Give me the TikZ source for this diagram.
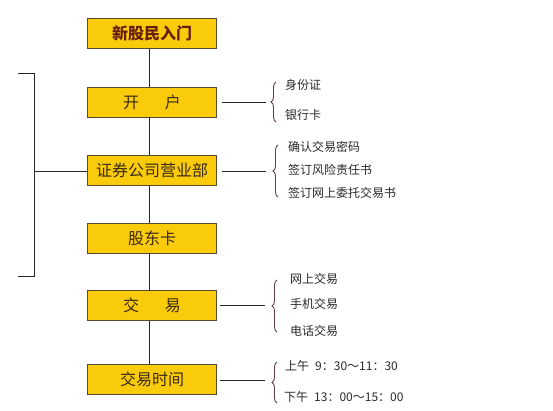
\documentclass[tikz,border=0pt]{standalone}
\usepackage{fontspec}
\setmainfont{Noto Sans CJK SC}
\usetikzlibrary{decorations.pathreplacing}
\definecolor{boxfill}{HTML}{FACB0A}
\definecolor{boxline}{HTML}{5A4A30}
\definecolor{txtdark}{HTML}{3A2A14}
\definecolor{txttop}{HTML}{6A1E0E}
\definecolor{bracecol}{HTML}{5C3E44}
\definecolor{sidetxt}{HTML}{2A2A2A}
\begin{document}
\begin{tikzpicture}[x=1pt,y=-1pt,
  stepbox/.style={draw=boxline,line width=0.9pt,fill=boxfill,minimum width=129pt,minimum height=30pt,inner sep=0pt,font=\fontsize{16}{16}\selectfont,text=txtdark},
  conn/.style={draw=black!85,line width=0.8pt},
  bracefig/.style={draw=bracecol,line width=0.9pt,decorate,decoration={brace,amplitude=5pt}},
  sidet/.style={anchor=west,inner sep=0pt,font=\fontsize{12}{12}\selectfont,text=sidetxt}]
\useasboundingbox (0,0) rectangle (553,411);
\fill[white] (0,0) rectangle (553,411);
% boxes
\node[stepbox,text=txttop,font=\fontsize{16}{16}\selectfont\bfseries] (b1) at (152,33.5) {新股民入门};
\node[stepbox] (b2) at (152,102) {开\hspace{1.6em}户};
\node[stepbox] (b3) at (152,170.5) {证券公司营业部};
\node[stepbox] (b4) at (152,238.5) {股东卡};
\node[stepbox] (b5) at (152,305.5) {交\hspace{1.6em}易};
\node[stepbox] (b6) at (152,379.5) {交易时间};
% vertical chain
\draw[conn] ([xshift=-3pt]b1.south) -- ([xshift=-3pt]b2.north);
\draw[conn] ([xshift=-3pt]b2.south) -- ([xshift=-3pt]b3.north);
\draw[conn] ([xshift=-3pt]b3.south) -- ([xshift=-3pt]b4.north);
\draw[conn] ([xshift=-3pt]b4.south) -- ([xshift=-3pt]b5.north);
\draw[conn] ([xshift=-3pt]b5.south) -- ([xshift=-3pt]b6.north);
% left bracket
\coordinate (lt0) at (18,73);
\coordinate (lt1) at (34,73);
\coordinate (lb1) at (34,276);
\coordinate (lb0) at (18,276);
\coordinate (lm) at (34,171);
\draw[conn] (lt0) -- (lt1) -- (lb1) -- (lb0);
\draw[conn] (lm) -- (b3.west |- lm);
% right connectors and braces
\coordinate (r2) at (266,102);
\coordinate (r3) at (266,171);
\coordinate (r5) at (265,305);
\coordinate (r6) at (265,380);
\draw[conn] ([xshift=5pt]b2.east) -- (r2);
\draw[conn] ([xshift=5pt]b3.east |- r3) -- (r3);
\draw[conn] ([xshift=3pt]b5.east |- r5) -- (r5);
\draw[conn] ([xshift=3pt]b6.east |- r6) -- (r6);
\coordinate (br2a) at (276,122); \coordinate (br2b) at (276,82);
\coordinate (br3a) at (278,197); \coordinate (br3b) at (278,145);
\coordinate (br5a) at (277,332); \coordinate (br5b) at (277,280);
\coordinate (br6a) at (277,403); \coordinate (br6b) at (277,362);
\draw[bracefig] (br2a) -- (br2b);
\draw[bracefig] (br3a) -- (br3b);
\draw[bracefig] (br5a) -- (br5b);
\draw[bracefig] (br6a) -- (br6b);
% side texts
\node[sidet] (t21) at (285,85) {身份证};
\node[sidet] (t22) at (285,115) {银行卡};
\node[sidet] (t31) at (288,147) {确认交易密码};
\node[sidet] (t32) at (288,169.5) {签订风险责任书};
\node[sidet] (t33) at (288,193) {签订网上委托交易书};
\node[sidet] (t51) at (290,279) {网上交易};
\node[sidet] (t52) at (290,304) {手机交易};
\node[sidet] (t53) at (290,331) {电话交易};
\node[sidet] (t61) at (285,366) {上午\hspace{0.5em}9：30～11：30};
\node[sidet] (t62) at (284,397) {下午\hspace{0.5em}13：00～15：00};
\end{tikzpicture}
\end{document}
